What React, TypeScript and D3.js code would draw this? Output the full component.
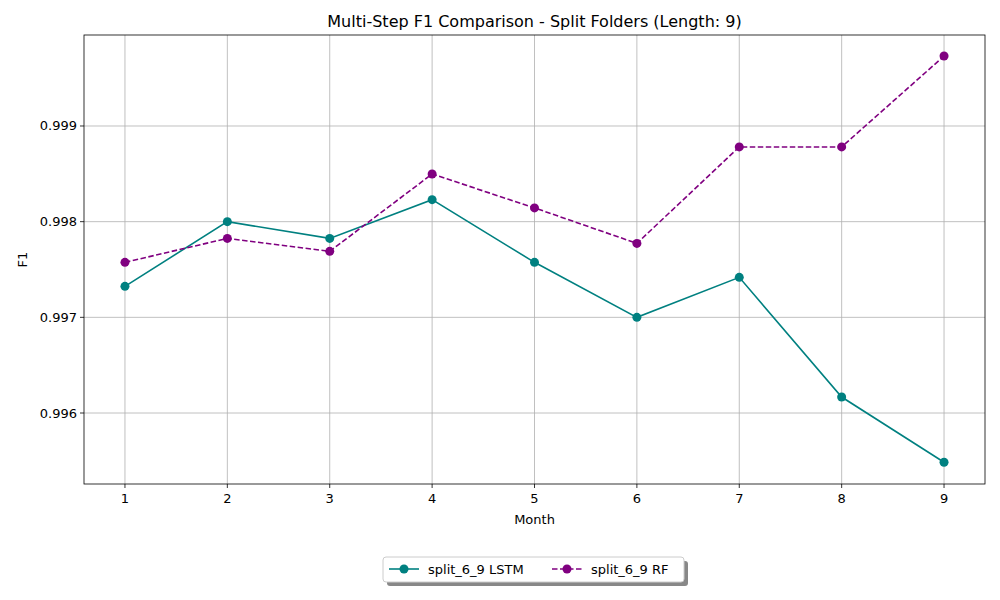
import * as d3 from "d3";

const months = [1, 2, 3, 4, 5, 6, 7, 8, 9];
const lstm = [0.997324, 0.998, 0.997825, 0.99823, 0.997575, 0.997, 0.997418, 0.996167, 0.995485];
const rf = [0.997575, 0.997825, 0.99769, 0.998498, 0.998144, 0.997773, 0.998781, 0.998781, 0.999731];
const yTicks = [0.996, 0.997, 0.998, 0.999];

const W = 1000, H = 600;
const L = 84, R = 985, T = 35, B = 484;
const font = "DejaVu Sans, sans-serif";

export default function App() {
  const x = d3.scaleLinear().domain([0.6, 9.4]).range([L, R]);
  const y = d3.scaleLinear().domain([0.995258, 0.999951]).range([B, T]);
  const line = d3.line<number>().x((_, i) => x(months[i])).y((d) => y(d));
  const series = [
    { name: "split_6_9 LSTM", data: lstm, color: "#008080", dash: "" },
    { name: "split_6_9 RF", data: rf, color: "#800080", dash: "5.5,2.5" },
  ];
  return (
    <svg width={W} height={H} style={{ position: "absolute", left: 0, top: 0, background: "#fff" }} fontFamily={font}>
      <rect x={0} y={0} width={W} height={H} fill="#fff" />
      {months.map((m) => (
        <g key={m}>
          <line x1={x(m)} x2={x(m)} y1={T} y2={B} stroke="#b0b0b0" strokeWidth={0.8} />
          <line x1={x(m)} x2={x(m)} y1={B} y2={B + 4} stroke="#000" strokeWidth={0.8} />
          <text x={x(m)} y={B + 19} fontSize={13} textAnchor="middle">{m}</text>
        </g>
      ))}
      {yTicks.map((t) => (
        <g key={t}>
          <line x1={L} x2={R} y1={y(t)} y2={y(t)} stroke="#b0b0b0" strokeWidth={0.8} />
          <line x1={L - 4} x2={L} y1={y(t)} y2={y(t)} stroke="#000" strokeWidth={0.8} />
          <text x={L - 7} y={y(t) + 4.5} fontSize={13} textAnchor="end">{t.toFixed(3)}</text>
        </g>
      ))}
      {series.map((s) => (
        <g key={s.name}>
          <path d={line(s.data) || ""} fill="none" stroke={s.color} strokeWidth={1.6} strokeDasharray={s.dash} />
          {s.data.map((v, i) => (
            <circle key={i} cx={x(months[i])} cy={y(v)} r={4.5} fill={s.color} />
          ))}
        </g>
      ))}
      <rect x={L} y={T} width={R - L} height={B - T} fill="none" stroke="#000" strokeWidth={0.8} />
      <text x={(L + R) / 2} y={27} fontSize={16} textAnchor="middle">Multi-Step F1 Comparison - Split Folders (Length: 9)</text>
      <text x={(L + R) / 2} y={524} fontSize={13} textAnchor="middle">Month</text>
      <text transform={`translate(27,${(T + B) / 2}) rotate(-90)`} fontSize={13} textAnchor="middle">F1</text>
      <g>
        <rect x={387} y={561} width={301} height={25} fill="#888" rx={3} />
        <rect x={383} y={557} width={301} height={25} fill="#fff" stroke="#ccc" rx={3} />
        {series.map((s, i) => {
          const lx = 389 + i * 163;
          return (
            <g key={s.name}>
              <line x1={lx} x2={lx + 30} y1={569} y2={569} stroke={s.color} strokeWidth={1.6} strokeDasharray={s.dash} />
              <circle cx={lx + 15} cy={569} r={4.5} fill={s.color} />
              <text x={lx + 39} y={574} fontSize={13}>{s.name}</text>
            </g>
          );
        })}
      </g>
    </svg>
  );
}
